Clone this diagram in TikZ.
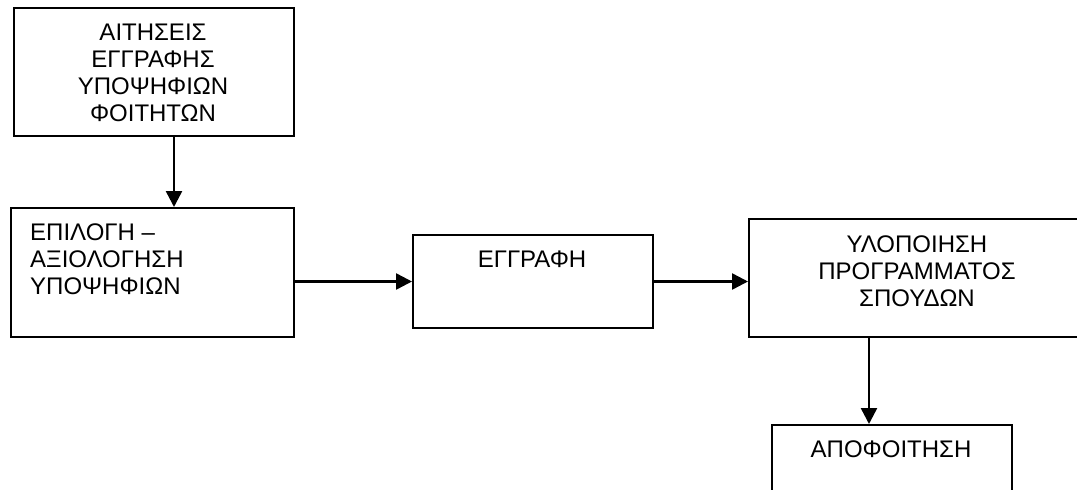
\documentclass[tikz,border=0pt]{standalone}
\usepackage{fontspec}
\newfontfamily\greekfont{Liberation Sans}
\usetikzlibrary{arrows.meta}
\begin{document}
\begin{tikzpicture}[x=1pt,y=-1pt,
  box/.style={draw, line width=2pt, inner sep=0pt, anchor=north west},
  lbl/.style={inner sep=0pt, font=\greekfont\fontsize{24pt}{27pt}\selectfont, align=center},
  flow/.style={line width=2.5pt, -{Triangle[length=16pt,width=16pt]}}]
\useasboundingbox (0,0) rectangle (1077,490);
\clip (0,0) rectangle (1077,490);

% process boxes
\node[box, minimum width=280pt, minimum height=128pt] (req)  at (13,7)    {};
\node[box, minimum width=283pt, minimum height=129pt] (sel)  at (10,207)  {};
\node[box, minimum width=240pt, minimum height=93pt]  (reg)  at (412,234) {};
\node[box, minimum width=338pt, minimum height=118pt] (impl) at (748,218) {};
\node[box, minimum width=240pt, minimum height=90pt]  (grad) at (771,424) {};

% box captions
\node[lbl, anchor=north] (reqtxt) at (153,23.8)
  {ΑΙΤΗΣΕΙΣ\\ΕΓΓΡΑΦΗΣ\\ΥΠΟΨΗΦΙΩΝ\\ΦΟΙΤΗΤΩΝ};
\node[lbl, align=left, anchor=north west] (seltxt) at (30,223.8)
  {ΕΠΙΛΟΓΗ –\\ΑΞΙΟΛΟΓΗΣΗ\\ΥΠΟΨΗΦΙΩΝ};
\node[lbl, anchor=north] (regtxt) at (532,250.8) {ΕΓΓΡΑΦΗ};
\node[lbl, anchor=north] (impltxt) at (917,235.8)
  {ΥΛΟΠΟΙΗΣΗ\\ΠΡΟΓΡΑΜΜΑΤΟΣ\\ΣΠΟΥΔΩΝ};
\node[lbl, anchor=north] (gradtxt) at (891,440.8) {ΑΠΟΦΟΙΤΗΣΗ};

% flow arrows
\draw[flow] ([xshift=20pt]req.south) -- ([xshift=20pt]req.south |- sel.north);
\draw[flow] (sel.east |- reg.west) -- (reg.west);
\draw[flow] (reg.east) -- (reg.east -| impl.west);
\draw[flow] ([xshift=-23pt]grad.north |- impl.south) -- ([xshift=-23pt]grad.north);
\end{tikzpicture}
\end{document}
